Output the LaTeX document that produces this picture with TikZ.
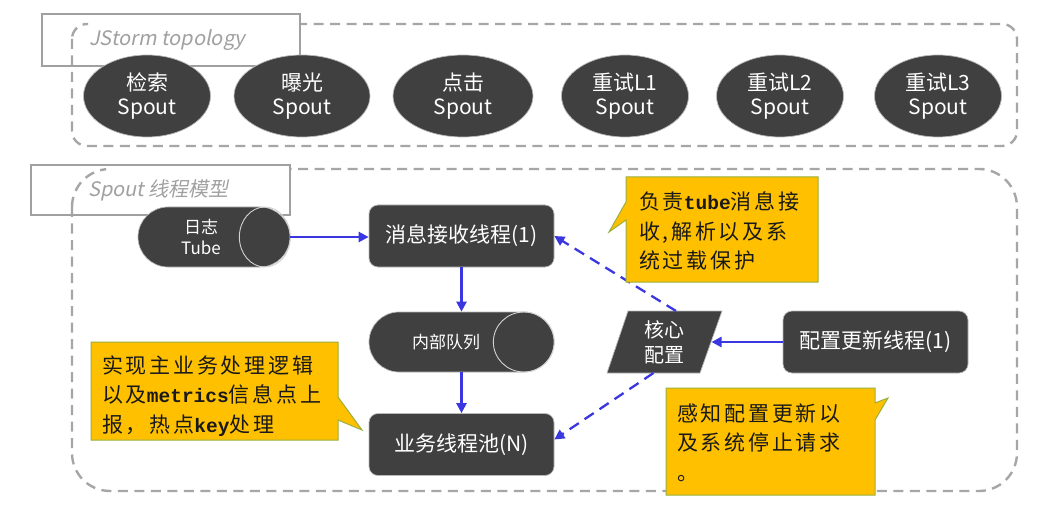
\documentclass[tikz,border=0pt]{standalone}
\usepackage{fontspec}
\setmainfont{Noto Sans CJK SC}
\newfontfamily\lblfont[FakeSlant=0.2]{Noto Sans CJK SC}
\newfontfamily\notefont[LetterSpace=13]{Noto Sans CJK SC}
\newfontfamily\monob{Liberation Mono}
\newcommand{\notelatin}[1]{{\monob\bfseries\fontsize{19.5}{29.5}\selectfont #1}}
\usetikzlibrary{shapes.geometric,arrows.meta}
\definecolor{darkfill}{HTML}{404040}
\definecolor{dashgray}{HTML}{A6A6A6}
\definecolor{labelgray}{HTML}{A0A0A0}
\definecolor{arrowblue}{HTML}{3A36E0}
\definecolor{calloutfill}{HTML}{FFC000}
\definecolor{calloutedge}{HTML}{9BAF3C}
\begin{document}
\begin{tikzpicture}[x=1pt,y=-1pt,
  groupbox/.style={draw=dashgray, line width=2.4pt, dash pattern=on 10pt off 6.5pt},
  labelbox/.style={draw=labelgray, line width=1.3pt, fill=white},
  labeltext/.style={text=labelgray, font=\lblfont\fontsize{20}{24}\selectfont, anchor=west, inner sep=0pt},
  darkshape/.style={fill=darkfill, draw=gray!55, line width=0.7pt},
  spout/.style={darkshape, ellipse, minimum height=82pt, inner sep=0pt, text=white, align=center, font=\fontsize{21}{24}\selectfont},
  thread/.style={darkshape, rectangle, rounded corners=9pt, minimum width=185pt, minimum height=62pt, inner sep=0pt, text=white, font=\fontsize{21}{24}\selectfont},
  pipe/.style={darkshape, rectangle, rounded corners=30pt, minimum height=60pt, inner sep=0pt},
  pipecap/.style={draw=gray!35, line width=0.9pt},
  pipetext/.style={text=white, align=center, inner sep=0pt, font=\fontsize{17}{21}\selectfont},
  cfgtext/.style={text=white, align=center, inner sep=0pt, font=\fontsize{20}{25}\selectfont},
  flow/.style={draw=arrowblue, line width=2.3pt, -{Triangle[length=10pt,width=10pt]}},
  cfgflow/.style={flow, dash pattern=on 11pt off 7pt},
  callout/.style={fill=calloutfill, draw=calloutedge, line width=1pt},
  notetext/.style={anchor=north west, inner sep=0pt, align=left, text=black!90, font=\notefont\fontsize{21}{29.5}\selectfont},
]
\fill[white] (0,0) rectangle (1037,532);
\useasboundingbox (0,0) rectangle (1037,532);

% group frames
\draw[groupbox, rounded corners=15pt] (72,24) rectangle (1017,146);
\draw[groupbox, rounded corners=38pt] (72,169) rectangle (1017,491);

% label boxes
\draw[labelbox] (42,14) rectangle (300,66);
\begin{scope}
  \clip (60,14) rectangle (88,66);
  \draw[groupbox, rounded corners=15pt] (72,24) rectangle (1017,146);
\end{scope}
\node[labeltext] (toplabel) at (89,40) {JStorm topology};

\draw[labelbox] (31,165) rectangle (290,215);
\begin{scope}
  \clip (60,165) rectangle (106,215);
  \draw[groupbox, rounded corners=38pt] (72,169) rectangle (1017,491);
\end{scope}
\node[labeltext] (botlabel) at (88,190) {Spout 线程模型};

% spouts
\node[spout, minimum width=127pt] (s1) at (147,96) {检索\\Spout};
\node[spout, minimum width=136pt] (s2) at (302,96) {曝光\\Spout};
\node[spout, minimum width=140pt] (s3) at (463,96) {点击\\Spout};
\node[spout, minimum width=127pt] (s4) at (625,96) {重试L1\\Spout};
\node[spout, minimum width=127pt] (s5) at (780,96) {重试L2\\Spout};
\node[spout, minimum width=127pt] (s6) at (938,96) {重试L3\\Spout};

% pipes
\node[pipe, minimum width=152pt] (log) at (214,237) {};
\draw[pipecap] ([xshift=-25.5pt]log.east) ellipse [x radius=25.5pt, y radius=30pt];
\node[pipetext] (logtxt) at (201,237) {日志\\Tube};

\node[pipe, minimum width=185pt] (queue) at (461.5,342) {};
\draw[pipecap] ([xshift=-30.5pt]queue.east) ellipse [x radius=30.5pt, y radius=30pt];
\node[pipetext] (queuetxt) at (446,342) {内部队列};

% threads
\node[thread] (msg) at (461.5,236) {消息接收线程(1)};
\node[thread] (biz) at (461.5,444.5) {业务线程池(N)};
\node[thread] (upd) at (875.5,342) {配置更新线程(1)};

% core config parallelogram
\filldraw[darkshape] (628,311) -- (722,311) -- (700,373) -- (607,373) -- cycle;
\node[cfgtext] (cfg) at (664.5,342) {核心\\配置};
\coordinate (cfgtop) at (676,311);
\coordinate (cfgbot) at (653.5,373);
\coordinate (cfgright) at (711.5,342);

% connectors
\draw[flow] (log.east) -- (msg.west |- log.east);
\draw[flow] (msg.south) -- (queue.north);
\draw[flow] (queue.south) -- (biz.north);
\draw[flow] (upd.west) -- (cfgright);
\draw[cfgflow] (cfgtop) -- (msg.east);
\draw[cfgflow] (cfgbot) -- ([yshift=5pt]biz.east);

% callouts
\filldraw[callout] (626,177) -- (818,177) -- (818,282) -- (626,282) -- (626,220) -- (609,232) -- (626,202) -- cycle;
\node[notetext] (n1) at (639,191.5) {负责\notelatin{tube}消息接\\收,解析以及系\\统过载保护};

\filldraw[callout] (91,342) -- (338,342) -- (338,397) -- (362,430) -- (338,420) -- (338,440) -- (91,440) -- cycle;
\node[notetext] (n2) at (102,355.5) {实现主业务处理逻辑\\以及\notelatin{metrics}信息点上\\报，热点\notelatin{key}处理};

\filldraw[callout] (666,388) -- (875,388) -- (875,403) -- (888,398) -- (875,420) -- (875,495) -- (666,495) -- cycle;
\node[notetext] (n3) at (677,403.5) {感知配置更新以\\及系统停止请求\\。};
\end{tikzpicture}
\end{document}
